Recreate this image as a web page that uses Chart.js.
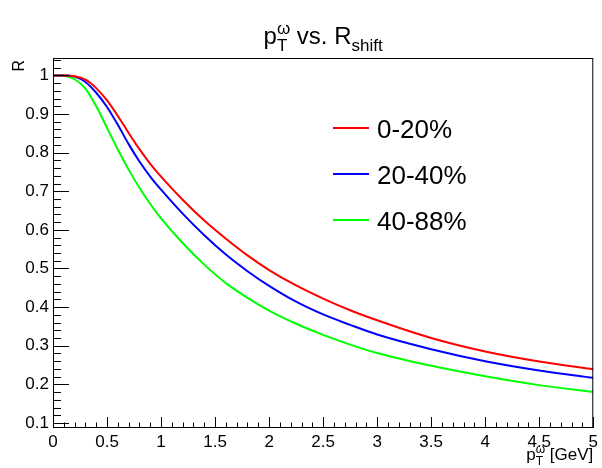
<!DOCTYPE html>
<html>
<head>
<meta charset="utf-8">
<script src="https://cdn.jsdelivr.net/npm/chart.js@4/dist/chart.umd.min.js"></script>
<style>
  html, body { margin: 0; padding: 0; background: #fff; }
  canvas { display: block; }
</style>
</head>
<body>
<canvas id="shiftChart" width="602" height="468"></canvas>
<script>
// pT of the omega (GeV)
const ptValues = [0, 0.1, 0.2, 0.3, 0.4, 0.5, 0.6, 0.7, 0.8, 0.9, 1.0, 1.2, 1.4, 1.6, 1.8, 2.0, 2.25, 2.5, 2.75, 3.0, 3.5, 4.0, 4.5, 5.0];

// R_shift for each centrality class
const r0to20  = [1.000, 1.000, 0.998, 0.989, 0.967, 0.935, 0.895, 0.851, 0.809, 0.771, 0.738, 0.678, 0.624, 0.577, 0.534, 0.496, 0.456, 0.422, 0.392, 0.366, 0.320, 0.285, 0.259, 0.239];
const r20to40 = [1.000, 1.000, 0.997, 0.983, 0.955, 0.918, 0.872, 0.822, 0.777, 0.738, 0.704, 0.642, 0.586, 0.536, 0.493, 0.455, 0.414, 0.381, 0.354, 0.329, 0.291, 0.260, 0.236, 0.217];
const r40to88 = [1.000, 0.999, 0.990, 0.966, 0.920, 0.864, 0.808, 0.756, 0.709, 0.667, 0.630, 0.566, 0.510, 0.462, 0.424, 0.391, 0.357, 0.328, 0.303, 0.281, 0.248, 0.221, 0.198, 0.180];

const centralityLabels = ["0-20%", "20-40%", "40-88%"];
const lineColors = ["#ff0000", "#0000ff", "#00ff00"];

const xTicks = [0, 0.5, 1, 1.5, 2, 2.5, 3, 3.5, 4, 4.5, 5];
const yTicks = [0.1, 0.2, 0.3, 0.4, 0.5, 0.6, 0.7, 0.8, 0.9, 1];

const FONT = '"Liberation Sans", Arial, Helvetica, sans-serif';

function toPoints(ys) {
    return ptValues.map((x, i) => ({ x: x, y: ys[i] }));
}

// text with stacked super/subscripts, e.g. p_T^omega
function richWidth(ctx, parts, size) {
    let w = 0;
    parts.forEach(p => {
        ctx.font = size + "px " + FONT;
        w += ctx.measureText(p.text).width;
        ctx.font = Math.round(size * 0.7) + "px " + FONT;
        const sw = p.sub ? ctx.measureText(p.sub).width : 0;
        const pw = p.sup ? ctx.measureText(p.sup).width : 0;
        w += Math.max(sw, pw);
    });
    return w;
}

function drawRich(ctx, x, y, parts, size) {
    let cx = x;
    ctx.textAlign = "left";
    ctx.textBaseline = "alphabetic";
    parts.forEach(p => {
        ctx.font = size + "px " + FONT;
        ctx.fillText(p.text, cx, y);
        cx += ctx.measureText(p.text).width;
        const small = Math.round(size * 0.7);
        ctx.font = small + "px " + FONT;
        let adv = 0;
        if (p.sup) {
            ctx.fillText(p.sup, cx, y - size * 0.42);
            adv = Math.max(adv, ctx.measureText(p.sup).width);
        }
        if (p.sub) {
            ctx.fillText(p.sub, cx, y + size * 0.3);
            adv = Math.max(adv, ctx.measureText(p.sub).width);
        }
        cx += adv;
    });
}

// ROOT-like frame: box, inward ticks, titles and legend
const frameDecor = {
    id: "frameDecor",
    afterDraw(chart) {
        const ctx = chart.ctx;
        const area = chart.chartArea;
        const xs = chart.scales.x;
        const ys = chart.scales.y;
        ctx.save();
        ctx.strokeStyle = "#000";
        ctx.lineWidth = 1;

        // frame
        ctx.strokeRect(area.left + 0.5, area.top + 0.5, area.right - area.left - 1, area.bottom - area.top - 1);

        ctx.beginPath();
        // x ticks, major every 0.5 and minor every 0.1
        for (let i = 0; i <= 50; i++) {
            const v = i / 10;
            const px = Math.round(xs.getPixelForValue(v)) + 0.5;
            const len = (i % 5 === 0) ? 11 : 5.5;
            ctx.moveTo(px, area.bottom);
            ctx.lineTo(px, area.bottom - len);
        }
        // y ticks, major every 0.1 and minor every 0.02
        for (let i = 0; i <= 60; i++) {
            const v = i / 50;
            if (v < ys.min || v > ys.max) continue;
            const py = Math.round(ys.getPixelForValue(v)) + 0.5;
            const len = (i % 5 === 0) ? 16 : 8;
            ctx.moveTo(area.left, py);
            ctx.lineTo(area.left + len, py);
        }
        ctx.stroke();

        ctx.fillStyle = "#000";
        // title
        const title = [{ text: "p", sup: "\u03c9", sub: "T" }, { text: " vs. R", sub: "shift" }];
        const tw = richWidth(ctx, title, 24);
        drawRich(ctx, (area.left + area.right) / 2 - tw / 2, 44, title, 24);

        // x axis title, right aligned to the frame
        const xTitle = [{ text: "p", sup: "\u03c9", sub: "T" }, { text: " [GeV]" }];
        const xw = richWidth(ctx, xTitle, 17);
        drawRich(ctx, area.right - xw, 460, xTitle, 17);

        // y axis title
        ctx.save();
        ctx.translate(24, area.top + 2);
        ctx.rotate(-Math.PI / 2);
        ctx.font = "16px " + FONT;
        ctx.textAlign = "right";
        ctx.textBaseline = "alphabetic";
        ctx.fillText("R", 0, 0);
        ctx.restore();

        // legend
        const rows = [128, 174, 220];
        chart.data.datasets.forEach((ds, i) => {
            ctx.strokeStyle = ds.borderColor;
            ctx.lineWidth = 2;
            ctx.beginPath();
            ctx.moveTo(333, rows[i]);
            ctx.lineTo(369, rows[i]);
            ctx.stroke();
            ctx.fillStyle = "#000";
            ctx.font = "26px " + FONT;
            ctx.textAlign = "left";
            ctx.textBaseline = "alphabetic";
            ctx.fillText(ds.label, 377, rows[i] + 9.5);
        });
        ctx.restore();
    }
};

const tickFont = { family: FONT, size: 17 };

new Chart(document.getElementById("shiftChart"), {
    type: "line",
    data: {
        datasets: [r0to20, r20to40, r40to88].map((ys, i) => ({
            label: centralityLabels[i],
            data: toPoints(ys),
            borderColor: lineColors[i],
            backgroundColor: lineColors[i],
            borderWidth: 2,
            pointRadius: 0,
            fill: false,
            cubicInterpolationMode: "monotone"
        }))
    },
    options: {
        responsive: false,
        animation: false,
        devicePixelRatio: 1,
        layout: { padding: { left: 0, right: 6, top: 58, bottom: 0 } },
        plugins: {
            legend: { display: false },
            tooltip: { enabled: false },
            title: { display: false }
        },
        scales: {
            x: {
                type: "linear",
                min: 0,
                max: 5,
                grid: { display: false, drawTicks: false },
                border: { display: false },
                ticks: {
                    color: "#000",
                    font: tickFont,
                    padding: 4,
                    maxRotation: 0,
                    callback: v => String(+v.toFixed(2))
                },
                afterBuildTicks: s => { s.ticks = xTicks.map(v => ({ value: v })); },
                afterFit: s => { s.height = 40; }
            },
            y: {
                type: "linear",
                min: 0.087,
                max: 1.045,
                grid: { display: false, drawTicks: false },
                border: { display: false },
                ticks: {
                    color: "#000",
                    font: tickFont,
                    padding: 4,
                    callback: v => String(+v.toFixed(2))
                },
                afterBuildTicks: s => { s.ticks = yTicks.map(v => ({ value: v })); },
                afterFit: s => { s.width = 53; }
            }
        }
    },
    plugins: [frameDecor]
});
</script>
</body>
</html>
